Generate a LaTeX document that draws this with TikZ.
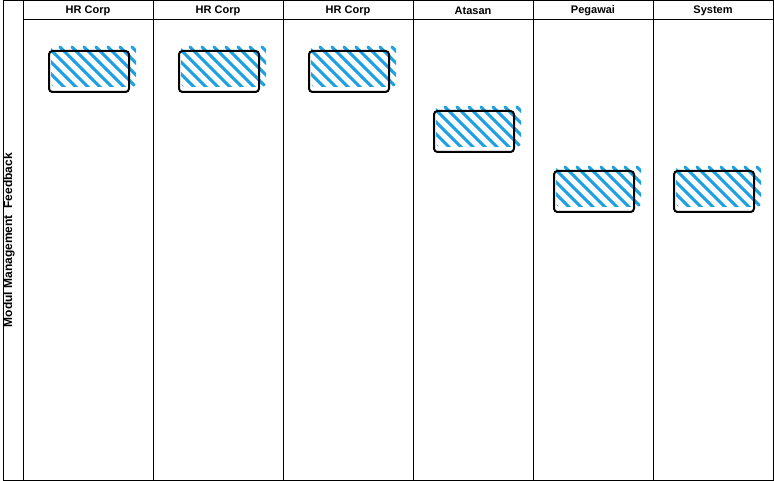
\documentclass[tikz,border=0pt]{standalone}
\usepackage{fontspec}
\setmainfont{Liberation Sans}
\definecolor{hatchblue}{HTML}{1BA1E2}
\begin{document}
\begin{tikzpicture}[x=1pt,y=-1pt,
  frame/.style={line width=1pt,draw=black},
  lanehead/.style={font=\fontsize{11}{13}\selectfont\bfseries,inner sep=0pt,anchor=center},
  sidelabel/.style={font=\fontsize{12}{14}\selectfont\bfseries,inner sep=0pt,rotate=90,anchor=center},
  actbox/.style={draw=black,line width=2pt,rounded corners=3.5pt,minimum width=80pt,minimum height=41pt,inner sep=0pt,anchor=north west},
  hatchline/.style={draw=hatchblue,line width=3pt,line cap=round}]
\useasboundingbox (0,0) rectangle (774,481);
\fill[white] (0,0) rectangle (774,481);
% pool frame
\draw[frame] (3,1) rectangle (773,480);
\foreach \xx in {23,153,283,413,533,653} {\draw[frame] (\xx,1) -- (\xx,480);}
\draw[frame] (23,20) -- (773,20);
% headers
\node[lanehead] (h1) at (88,10.5) {HR Corp};
\node[lanehead] (h2) at (218,10.5) {HR Corp};
\node[lanehead] (h3) at (348,10.5) {HR Corp};
\node[lanehead] (h4) at (473,10.5) {Atasan};
\node[lanehead] (h5) at (593,10.5) {Pegawai};
\node[lanehead] (h6) at (713,10.5) {System};
\node[sidelabel] (pool) at (9,240) {Modul Management\ \ Feedback};
% hatched boxes
\foreach \n/\bx/\by in {b1/48/50,b2/178/50,b3/308/50,b4/433/110,b5/553/170,b6/673/170} {
  \begin{scope}
    \clip[rounded corners=4pt] (\bx+3,\by-5) rectangle (\bx+88,\by+37);
    \foreach \i in {-48,-36,...,84} {
      \draw[hatchline] (\bx+\i,\by-3) -- (\bx+\i+46,\by+43);
    }
  \end{scope}
  \node[actbox] (\n) at (\bx,\by) {};
}
\end{tikzpicture}
\end{document}
